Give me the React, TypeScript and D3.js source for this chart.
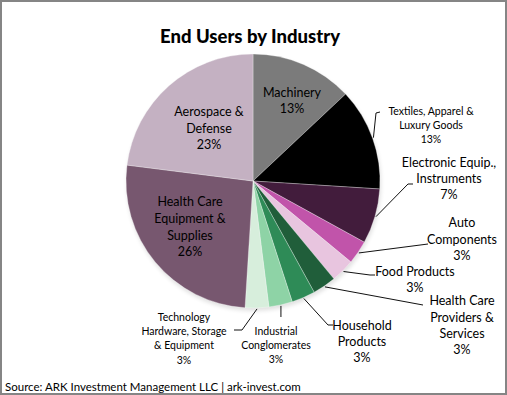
import * as d3 from 'd3';

// End users by industry, clockwise from 12 o'clock
const INDUSTRIES = [
  'Machinery',
  'Textiles, Apparel & Luxury Goods',
  'Electronic Equip., Instruments',
  'Auto Components',
  'Food Products',
  'Health Care Providers & Services',
  'Household Products',
  'Industrial Conglomerates',
  'Technology Hardware, Storage & Equipment',
  'Health Care Equipment & Supplies',
  'Aerospace & Defense',
];
const SHARES = [13, 13, 7, 3, 3, 3, 3, 3, 3, 26, 23];
const COLORS = [
  '#7b7b7b', '#000000', '#421c3c', '#c154aa', '#e8c5df',
  '#205e3a', '#2e8b57', '#8ed3a6', '#d7eedc', '#77576f', '#c4b1c2',
];
// label text lines (last line is the percentage)
const LABEL_LINES = [
  ['Machinery'],
  ['Textiles, Apparel &', 'Luxury Goods'],
  ['Electronic Equip.,', 'Instruments'],
  ['Auto', 'Components'],
  ['Food Products'],
  ['Health Care', 'Providers &', 'Services'],
  ['Household', 'Products'],
  ['Industrial', 'Conglomerates'],
  ['Technology', 'Hardware, Storage', '& Equipment'],
  ['Health Care', 'Equipment &', 'Supplies'],
  ['Aerospace &', 'Defense'],
];

const W = 507;
const H = 395;
const CX = 253;
const CY = 181;
const R = 127;

// label placement: text block centre, first line y, line height, font size,
// and leader bend/end points (null for labels drawn inside the slice).
// a leader point with x = null keeps the x of the leader start (vertical tick)
const LAYOUT: { x: number; y: number; lh: number; fs: number; leader: [number | null, number][] | null }[] = [
  { x: 292, y: 93, lh: 16, fs: 12.5, leader: null },
  { x: 431, y: 111, lh: 14, fs: 10.5, leader: [[376, 113], [380, 112]] },
  { x: 449, y: 163, lh: 16, fs: 12.5, leader: [[408, 184], [413, 184]] },
  { x: 462, y: 223, lh: 16.5, fs: 12.5, leader: [[428, 244]] },
  { x: 415, y: 272, lh: 15.5, fs: 12.5, leader: [[370, 275], [375, 275]] },
  { x: 462, y: 301, lh: 16.3, fs: 12.5, leader: [[423, 305]] },
  { x: 362, y: 326, lh: 16, fs: 12.5, leader: [[328, 325], [333, 325]] },
  { x: 276, y: 331, lh: 14, fs: 10.5, leader: [[null, 317]] },
  { x: 184, y: 317, lh: 14.3, fs: 10.5, leader: [[242, 330], [234, 330]] },
  { x: 190, y: 202, lh: 16.7, fs: 12.5, leader: null },
  { x: 209, y: 112, lh: 16.5, fs: 12.5, leader: null },
];

const FONT = 'Lato, "Open Sans", sans-serif';

type Slice = { name: string; value: number; i: number };

export default function App() {
  const data: Slice[] = INDUSTRIES.map((name, i) => ({ name, value: SHARES[i], i }));
  const pie = d3.pie<Slice>()
    .value((d) => d.value)
    .sort(null)
    .startAngle(0)
    .endAngle(2 * Math.PI);
  const arcs = pie(data);
  const arc = d3.arc<d3.PieArcDatum<Slice>>().innerRadius(0).outerRadius(R);
  const edge = d3.arc<d3.PieArcDatum<Slice>>().innerRadius(R + 1).outerRadius(R + 1);

  const line = d3.line();

  return (
    <svg width={W} height={H} style={{ position: 'absolute', left: 0, top: 0 }} fontFamily={FONT}>
      <defs>
        <filter id="soft" x="-20%" y="-20%" width="140%" height="140%">
          <feGaussianBlur stdDeviation="2" />
        </filter>
      </defs>
      <rect x={1} y={1} width={W - 2} height={H - 2} fill="#fff" stroke="#858585" strokeWidth={2} />
      <text x={250} y={37} textAnchor="middle" dy="0.35em" fontSize={18.5} fontWeight={900} fill="#000">
        End Users by Industry
      </text>

      {/* faint shadow under the pie */}
      <circle cx={CX + 1} cy={CY + 3} r={R} fill="#000" opacity={0.12} filter="url(#soft)" />

      <g transform={`translate(${CX},${CY})`}>
        {arcs.map((a) => (
          <path key={a.data.name} d={arc(a) || ''} fill={COLORS[a.index]} stroke="#fff" strokeWidth={0.3} />
        ))}
      </g>

      {arcs.map((a) => {
        const L = LAYOUT[a.index];
        if (!L.leader) return null;
        const [sx, sy] = edge.centroid(a);
        const start: [number, number] = [CX + sx, CY + sy];
        const pts: [number, number][] = [start, ...L.leader.map(([px, py]) => [px ?? start[0], py] as [number, number])];
        return <path key={`l${a.index}`} d={line(pts) || ''} fill="none" stroke="#111" strokeWidth={1} />;
      })}

      {arcs.map((a) => {
        const L = LAYOUT[a.index];
        const lines = [...LABEL_LINES[a.index], `${a.data.value}%`];
        return (
          <text key={`t${a.index}`} textAnchor="middle" fontSize={L.fs} fill="#000">
            {lines.map((s, k) => (
              <tspan key={k} x={L.x} y={L.y + k * L.lh} dy="0.35em">{s}</tspan>
            ))}
          </text>
        );
      })}

      <text x={5} y={387} dy="0.35em" fontSize={11.5} fill="#000">
        Source: ARK Investment Management LLC | ark-invest.com
      </text>
    </svg>
  );
}
